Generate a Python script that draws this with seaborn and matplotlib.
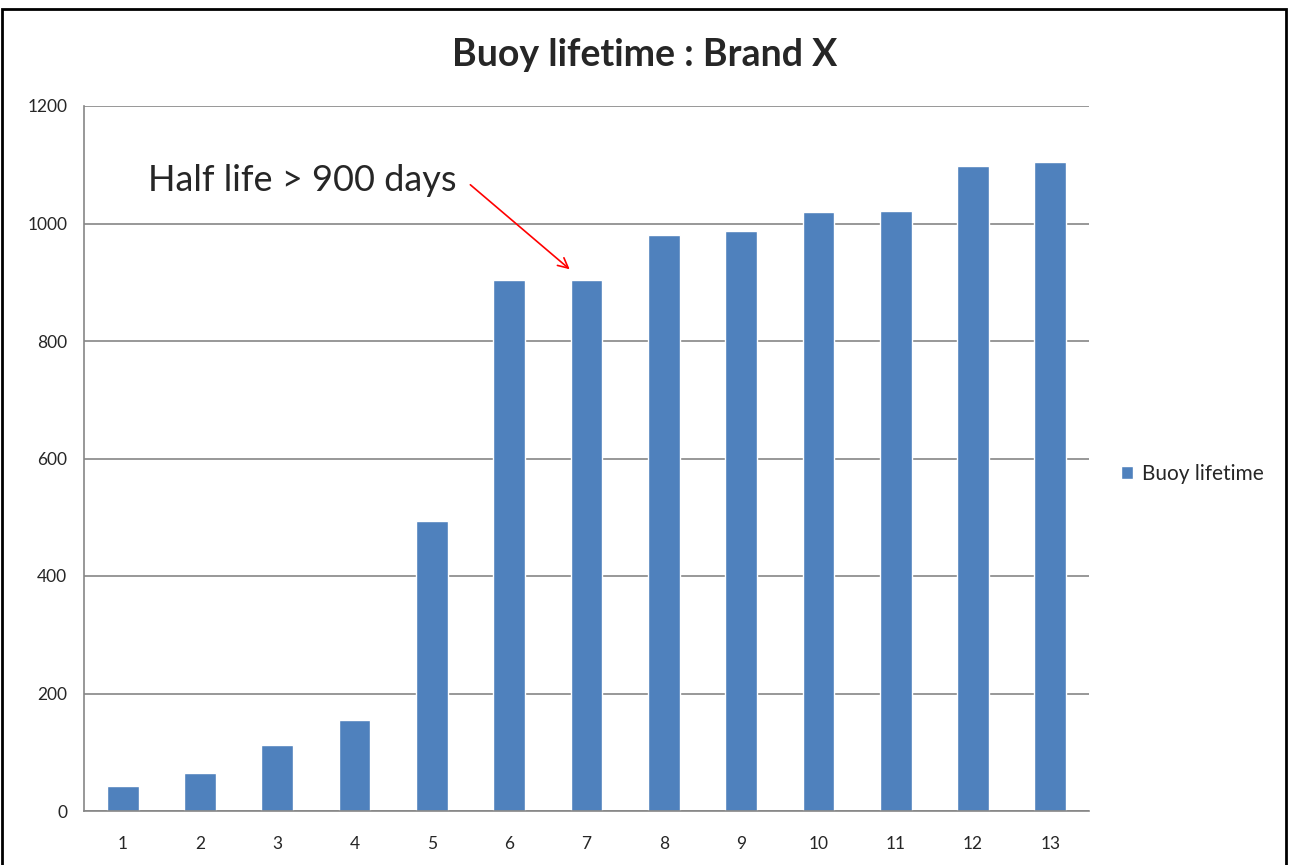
import matplotlib
matplotlib.use("Agg")
import matplotlib.pyplot as plt
import seaborn as sns
import pandas as pd
from matplotlib.patches import Rectangle, Patch

categories = ["1", "2", "3", "4", "5", "6", "7", "8", "9", "10", "11", "12", "13"]
lifetime = [42, 65, 112, 155, 494, 904, 904, 980, 988, 1019, 1022, 1098, 1104]
series_name = "Buoy lifetime"
title = "Buoy lifetime : Brand X"
annotation = "Half life > 900 days"

df = pd.DataFrame({"cat": categories, "val": lifetime})

sns.set_style("white")
plt.rcParams['font.family'] = ['Lato', 'DejaVu Sans']

fig = plt.figure(figsize=(12.9, 8.65), dpi=100)
ax = fig.add_axes([84/1290, 1-811/865, (1089-84)/1290, (811-106)/865])

bar_color = "#4F81BD"
grid_color = "#868686"
sns.barplot(data=df, x="cat", y="val", color=bar_color, width=0.41,
            saturation=1, ax=ax, order=categories)

ax.set_ylim(0, 1200)
ax.set_xlim(-0.5, len(categories) - 0.5)
ax.set_yticks([0, 200, 400, 600, 800, 1000, 1200])
ax.yaxis.grid(True, color=grid_color, linewidth=1.2)
ax.set_axisbelow(True)
ax.set_xlabel("")
ax.set_ylabel("")

for s in ["top", "right"]:
    ax.spines[s].set_visible(False)
for s in ["left", "bottom"]:
    ax.spines[s].set_color(grid_color)
    ax.spines[s].set_linewidth(1.2)

# x ticks at category boundaries
ax.set_xticks([i - 0.5 for i in range(len(categories) + 1)], minor=False)
ax.set_xticklabels([])
ax.set_xticks(range(len(categories)), minor=True)
ax.set_xticklabels(categories, minor=True)
ax.tick_params(axis="x", which="major", direction="out", length=6, color=grid_color, width=1.2)
ax.tick_params(axis="x", which="minor", length=0, labelsize=12.5, pad=18)
ax.tick_params(axis="y", direction="out", length=6, color=grid_color, width=1.2, labelsize=12.5, pad=6)

fig.text(0.5, 1 - 55/865, title, ha="center", va="center", fontsize=27, fontweight="bold")

ax.text(4.32, 1074, annotation, ha="right", va="center", fontsize=26)
ax.annotate("", xy=(5.81, 919), xytext=(4.47, 1069),
            arrowprops=dict(arrowstyle="->", color="red", lw=1.2, mutation_scale=18))

handles = [Patch(facecolor=bar_color, label=series_name)]
fig.legend(handles=handles, loc="center left", bbox_to_anchor=(1102/1290, 1 - 474/865),
           frameon=False, fontsize=15, handlelength=0.6, handleheight=0.6,
           handletextpad=0.4)

fig.patches.append(Rectangle((2/1290, -0.05), 1284/1290, 1.05 - 9/865, transform=fig.transFigure,
                             fill=False, edgecolor="black", linewidth=2))

fig.savefig("out.png", dpi=100)
